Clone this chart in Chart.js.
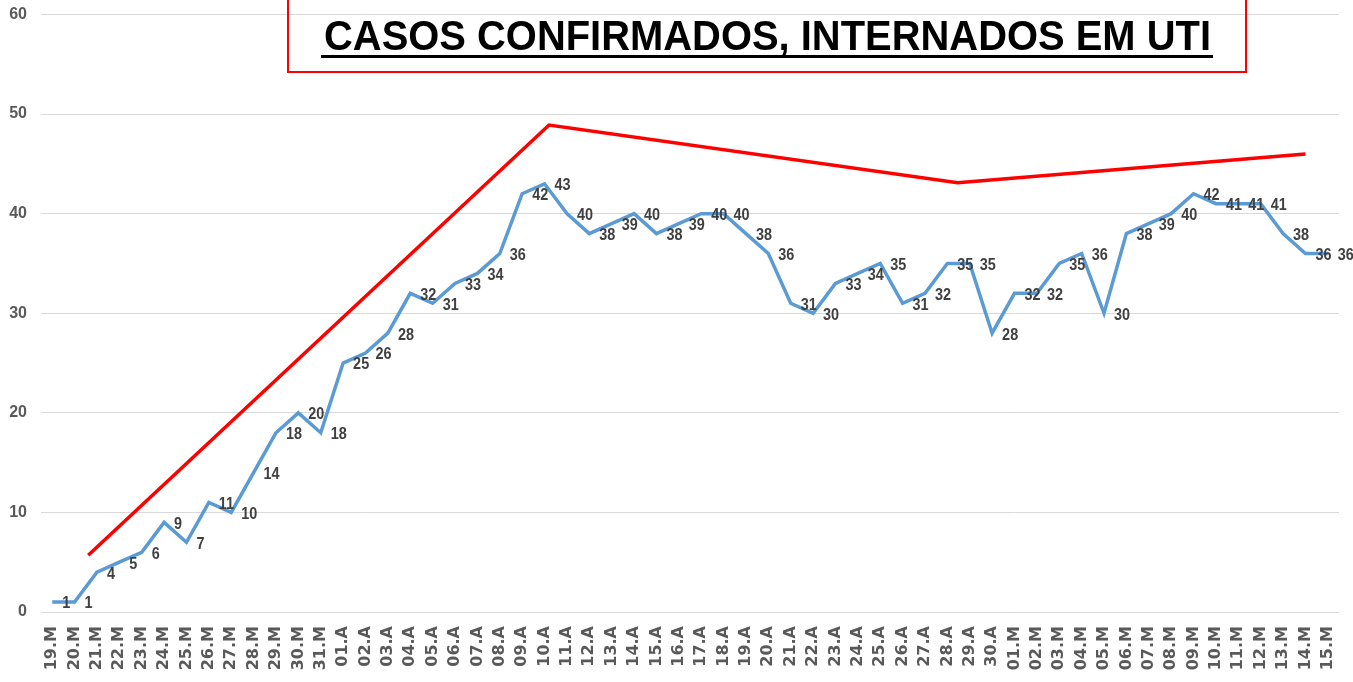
<!DOCTYPE html>
<html>
<head>
<meta charset="utf-8">
<script src="https://cdn.jsdelivr.net/npm/chart.js@4.4.1/dist/chart.umd.min.js"></script>
<style>
  html, body { margin: 0; padding: 0; background: #ffffff; }
  #wrap { position: relative; width: 1353px; height: 682px; }
</style>
</head>
<body>
<div id="wrap"><canvas id="c"></canvas></div>
<script>
const titleText = 'CASOS CONFIRMADOS, INTERNADOS EM UTI';

const categories = [
  '19.M','20.M','21.M','22.M','23.M','24.M','25.M','26.M','27.M','28.M','29.M','30.M','31.M',
  '01.A','02.A','03.A','04.A','05.A','06.A','07.A','08.A','09.A','10.A','11.A','12.A','13.A','14.A','15.A',
  '16.A','17.A','18.A','19.A','20.A','21.A','22.A','23.A','24.A','25.A','26.A','27.A','28.A','29.A','30.A',
  '01.M','02.M','03.M','04.M','05.M','06.M','07.M','08.M','09.M','10.M','11.M','12.M','13.M','14.M','15.M'
];

const icuCases = [
  1,1,4,5,6,9,7,11,10,14,18,20,18,
  25,26,28,32,31,33,34,36,42,43,40,38,39,40,38,39,40,40,38,36,31,30,33,34,35,31,32,35,35,28,
  32,32,35,36,30,38,39,40,42,41,41,41,38,36,36
];

// Hand-drawn red trend line vertices (category index position, value)
const trendX = [1.61, 22.2, 40.46, 56.0];
const trendY = [5.7, 48.9, 43.1, 46.0];

const yTicks = [0, 10, 20, 30, 40, 50, 60];

const sans = '"Liberation Sans", Arial, sans-serif';

const dataLabelPlugin = {
  id: 'dataLabels',
  afterDatasetsDraw(chart) {
    const meta = chart.getDatasetMeta(0);
    const ctx = chart.ctx;
    ctx.save();
    ctx.font = 'bold 16px ' + sans;
    ctx.fillStyle = '#404040';
    ctx.textAlign = 'left';
    ctx.textBaseline = 'middle';
    meta.data.forEach((pt, i) => {
      ctx.save();
      ctx.translate(pt.x + 10, pt.y + 2);
      ctx.scale(0.9, 1);
      ctx.fillText(String(icuCases[i]), 0, 0);
      ctx.restore();
    });
    ctx.restore();
  }
};

const titlePlugin = {
  id: 'boxTitle',
  afterDraw(chart) {
    const ctx = chart.ctx;
    ctx.save();
    ctx.strokeStyle = '#ff0000';
    ctx.lineWidth = 2;
    ctx.strokeRect(288, -4, 958, 76);
    ctx.font = 'bold 42px ' + sans;
    const w = ctx.measureText(titleText).width;
    const target = 887;
    const sx = target / w;
    ctx.fillStyle = '#000000';
    ctx.textBaseline = 'alphabetic';
    ctx.textAlign = 'left';
    ctx.translate(324, 50);
    ctx.scale(sx, 1);
    ctx.fillText(titleText, 0, 0);
    ctx.restore();
    ctx.save();
    ctx.fillStyle = '#000000';
    ctx.fillRect(321, 55, 892, 3);
    ctx.restore();
  }
};

new Chart(document.getElementById('c'), {
  type: 'line',
  data: {
    labels: categories,
    datasets: [
      {
        label: 'Internados em UTI',
        data: icuCases,
        borderColor: '#5b9bd5',
        borderWidth: 3.5,
        pointRadius: 0,
        tension: 0,
        fill: false,
        xAxisID: 'x',
        order: 2
      },
      {
        label: 'Tendência',
        data: trendX.map((x, i) => ({ x: x, y: trendY[i] })),
        borderColor: '#ff0000',
        borderWidth: 3.5,
        pointRadius: 0,
        tension: 0,
        fill: false,
        xAxisID: 'x2',
        order: 1
      }
    ]
  },
  options: {
    responsive: true,
    maintainAspectRatio: false,
    animation: false,
    layout: { padding: { top: 14.5, right: 14, left: 0, bottom: 0 } },
    plugins: {
      legend: { display: false },
      tooltip: { enabled: false },
      title: { display: false }
    },
    scales: {
      x: {
        type: 'category',
        offset: true,
        grid: { display: false, drawTicks: false },
        border: { display: false },
        ticks: {
          autoSkip: false,
          minRotation: 90,
          maxRotation: 90,
          padding: 14,
          color: '#595959',
          font: { family: '"DejaVu Sans", Verdana, sans-serif', weight: 'bold', size: 16 }
        },
        afterFit(scale) {
          scale.height = 70;
          scale.paddingLeft = 0;
          scale.paddingRight = 0;
        }
      },
      x2: {
        type: 'linear',
        display: false,
        min: -0.5,
        max: categories.length - 0.5,
        offset: false
      },
      y: {
        min: 0,
        max: 60,
        afterBuildTicks(scale) { scale.ticks = yTicks.map(v => ({ value: v })); },
        grid: { color: '#d9d9d9', lineWidth: 1, drawTicks: false },
        border: { display: false },
        ticks: {
          padding: 14,
          color: '#595959',
          font: { family: sans, weight: 'bold', size: 16 }
        },
        afterFit(scale) {
          scale.width = 41;
          scale.paddingTop = 0;
          scale.paddingBottom = 0;
        }
      }
    }
  },
  plugins: [dataLabelPlugin, titlePlugin]
});
</script>
</body>
</html>
